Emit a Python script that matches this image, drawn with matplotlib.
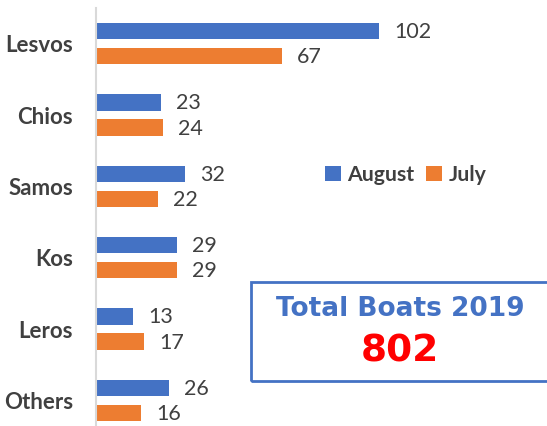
import matplotlib
matplotlib.use("Agg")
import matplotlib.pyplot as plt
from matplotlib.patches import Rectangle
import numpy as np

categories = ["Lesvos", "Chios", "Samos", "Kos", "Leros", "Others"]
august = [102, 23, 32, 29, 13, 26]
july = [67, 24, 22, 29, 17, 16]
series_names = ["August", "July"]
total_title = "Total Boats 2019"
total_value = "802"

BLUE = "#4472C4"
ORANGE = "#ED7D31"
TXT = "#404040"

plt.rcParams['font.family'] = ['Lato', 'DejaVu Sans']

W, H = 547, 426
fig = plt.figure(figsize=(W/100, H/100), dpi=100)
ax_left, ax_right = 96, 547
ax_top, ax_bot = 8, 436
ax = fig.add_axes([ax_left/W, (H-ax_bot)/H, (ax_right-ax_left)/W, (ax_bot-ax_top)/H])

y = np.arange(len(categories))
h = 0.23
off = 0.176
b1 = ax.barh(y - off, august, height=h, color=BLUE, label=series_names[0])
b2 = ax.barh(y + off, july, height=h, color=ORANGE, label=series_names[1])

px_per_unit = (379 - 97) / 102
ax.set_xlim(-1/px_per_unit, (ax_right-ax_left-1)/px_per_unit)
ax.set_ylim(len(categories)-0.5, -0.5)

for bars in (b1, b2):
    for r in bars:
        v = r.get_width()
        ax.annotate(f"{int(v)}", (v, r.get_y()+r.get_height()/2), xytext=(15, -1),
                    textcoords="offset pixels", ha="left", va="center",
                    fontsize=15.5, color=TXT)

ax.set_yticks(y)
ax.set_yticklabels(categories, fontsize=16, fontweight="bold", color=TXT)
ax.tick_params(axis="y", length=0, pad=16.5)
ax.set_xticks([])
for s in ["top", "right", "bottom"]:
    ax.spines[s].set_visible(False)
ax.spines["left"].set_color("#D9D9D9")
ax.spines["left"].set_linewidth(1.5)

leg = fig.legend(handles=[b1, b2], labels=series_names, loc="center left",
                 bbox_to_anchor=(306/W, 1-175/H), ncol=2, frameon=False,
                 handlelength=0.75, handleheight=0.75, handletextpad=0.3,
                 columnspacing=0.55, prop={"size": 15.3, "weight": "bold"})
for t in leg.get_texts():
    t.set_color(TXT)

box = Rectangle((251/W, 1-381/H), 298/W, 99/H, transform=fig.transFigure,
                fill=False, edgecolor=BLUE, linewidth=2)
fig.patches.append(box)
fig.text(400/W, 1-309/H, total_title, ha="center", va="center", color=BLUE,
         fontsize=19, fontweight="bold", family="DejaVu Sans")
fig.text(400/W, 1-352/H, total_value, ha="center", va="center", color="#FF0000",
         fontsize=27, fontweight="bold", family="DejaVu Sans")

fig.savefig("out.png", dpi=100)
